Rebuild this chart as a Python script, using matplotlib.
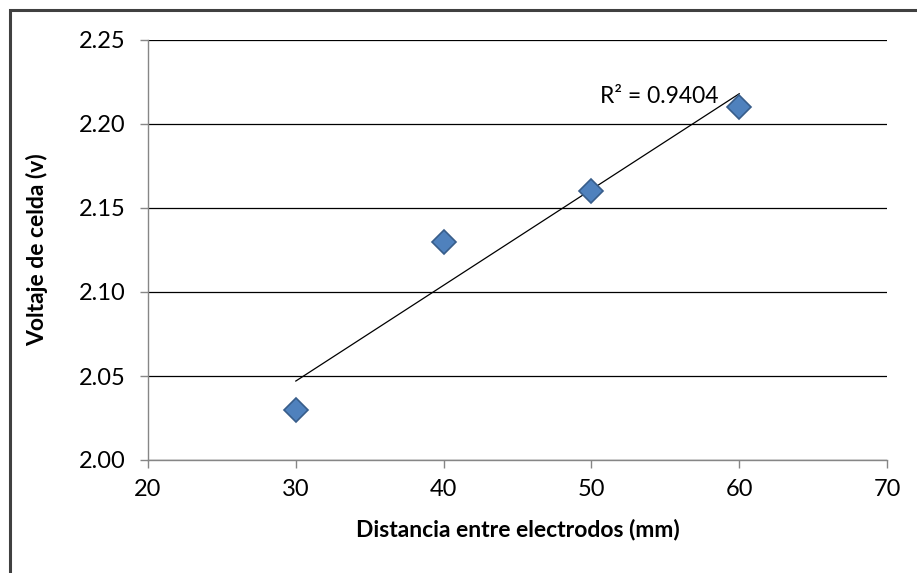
import numpy as np
from matplotlib import pyplot as plt
from matplotlib.patches import Rectangle

# distance between electrodes (mm) and cell voltage (v)
distancia = [30, 40, 50, 60]
voltaje = [2.03, 2.13, 2.16, 2.21]
x_ticks = [20, 30, 40, 50, 60, 70]
y_ticks = [2.00, 2.05, 2.10, 2.15, 2.20, 2.25]

plt.rcParams['font.family'] = ['Lato', 'DejaVu Sans']

fig = plt.figure(figsize=(9.17, 5.73), dpi=100)
ax = fig.add_axes([148/917, 1 - 460/573, (887-148)/917, (460-40)/573])

# linear trendline
x = np.array(distancia)
y = np.array(voltaje)
m, b = np.polyfit(x, y, 1)
r2 = np.corrcoef(x, y)[0, 1] ** 2
ax.plot([x.min(), x.max()], [m*x.min() + b, m*x.max() + b], color='black', lw=0.9, zorder=3)

ax.plot(distancia, voltaje, 'D', ms=12, color='#4F81BD', mec='#385D8A', mew=1.2, zorder=4)

ax.text(54.6, 2.2165, 'R² = %.4f' % r2, fontsize=16.5, ha='center', va='center')

ax.set_xlim(20, 70)
ax.set_ylim(2.00, 2.25)
ax.set_xticks(x_ticks)
ax.set_yticks(y_ticks)
ax.set_yticklabels(['%.2f' % v for v in y_ticks])
ax.yaxis.grid(True, color='black', lw=0.9)
ax.set_axisbelow(True)
for s in ['top', 'right']:
  ax.spines[s].set_visible(False)
for s in ['left', 'bottom']:
  ax.spines[s].set_color('#868686')
  ax.spines[s].set_linewidth(1.0)
ax.tick_params(axis='both', labelsize=17, color='#868686', length=6, width=1.0)
ax.tick_params(axis='x', pad=8)
ax.tick_params(axis='y', pad=10)

ax.set_xlabel('Distancia entre electrodos (mm)', fontsize=16.5, fontweight='bold', labelpad=13)
ax.set_ylabel('Voltaje de celda (v)', fontsize=16.5, fontweight='bold', labelpad=22)

# outer border of the chart
fig.patches.append(Rectangle((10/917, -0.1), 1.2, 1.1 - 10/573, transform=fig.transFigure,
                             fill=False, edgecolor='#404040', lw=2.2))

plt.savefig('out.png', dpi=100)
